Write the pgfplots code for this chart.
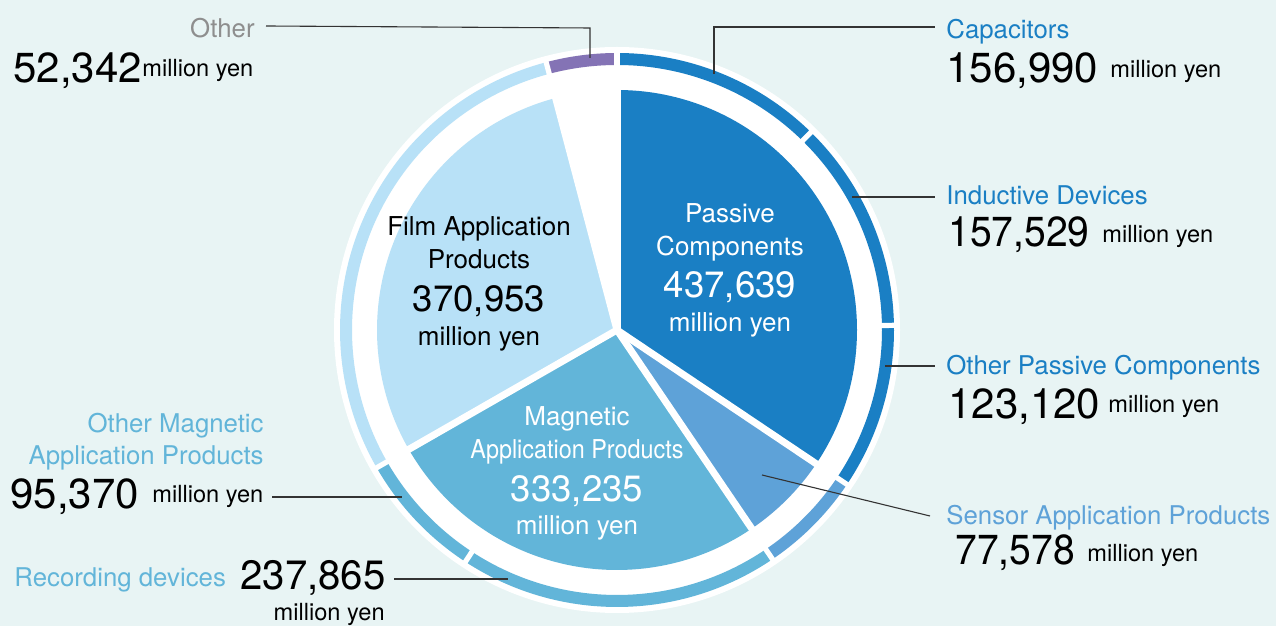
\documentclass[border=0pt]{standalone}
\usepackage{pgfplots}
\pgfplotsset{compat=1.18}
\usepackage{graphicx}
\usepackage{fontspec}
\setmainfont{TeX Gyre Heros}
\definecolor{bg}{HTML}{E8F4F4}
\definecolor{cpass}{HTML}{1A7FC4}
\definecolor{csens}{HTML}{5EA2D8}
\definecolor{cmag}{HTML}{62B5D9}
\definecolor{cfilm}{HTML}{B8E1F7}
\definecolor{cother}{HTML}{8473B5}
\definecolor{cgray}{HTML}{8E8E8E}
\newcommand\fs[1]{\fontsize{#1pt}{#1pt}\selectfont}
% annular ring segment: start angle, end angle, colour
\newcommand\ring[3]{\fill[#3] (axis cs:617,296) ++(#1:138.5pt) arc[start angle=#1,end angle=#2,radius=138.5pt] -- ++(#2:-6pt) arc[start angle=#2,end angle=#1,radius=132.5pt] -- cycle;}
\newcommand\ringgap[1]{\draw[white,line width=2.6pt] (axis cs:617,296) ++(#1:130pt) -- ++(#1:11pt);}
\newcommand\piegap[1]{\draw[white,line width=3.5pt] (axis cs:617,296) -- ++(#1:122pt);}
% segment values (million yen), clockwise from top
\def\vCap{156990}\def\vInd{157529}\def\vOPC{123120}\def\vSen{77578}
\def\vRec{237865}\def\vOMag{95370}\def\vFilm{370953}\def\vOth{52342}
\pgfkeys{/pgf/fpu=true,/pgf/fpu/output format=fixed}
\pgfmathsetmacro\vTot{\vCap+\vInd+\vOPC+\vSen+\vRec+\vOMag+\vFilm+\vOth}
\pgfmathsetmacro\bA{90-360*\vCap/\vTot}
\pgfmathsetmacro\bB{\bA-360*\vInd/\vTot}
\pgfmathsetmacro\bC{\bB-360*\vOPC/\vTot}
\pgfmathsetmacro\bD{\bC-360*\vSen/\vTot}
\pgfmathsetmacro\bE{\bD-360*\vRec/\vTot}
\pgfmathsetmacro\bF{\bE-360*\vOMag/\vTot}
\pgfmathsetmacro\bG{\bF-360*\vFilm/\vTot}
\pgfmathsetmacro\bH{\bG-360*\vOth/\vTot}
\pgfkeys{/pgf/fpu=false}
\begin{document}
\begin{tikzpicture}
\begin{axis}[at={(0,0)},anchor=south west,scale only axis,width=638pt,height=313pt,
  xmin=0,xmax=1276,ymin=0,ymax=626,hide axis,clip=false]
\fill[bg] (axis cs:0,0) rectangle (axis cs:1276,626);
\fill[white] (axis cs:617,296) circle[radius=141.5pt];
% inner pie
\fill[cpass] (axis cs:617,296) -- ++(90:120pt) arc[start angle=90,end angle=\bC,radius=120pt] -- cycle;
\fill[csens] (axis cs:617,296) -- ++(\bC:120pt) arc[start angle=\bC,end angle=\bD,radius=120pt] -- cycle;
\fill[cmag] (axis cs:617,296) -- ++(\bD:120pt) arc[start angle=\bD,end angle=\bF,radius=120pt] -- cycle;
\fill[cfilm] (axis cs:617,296) -- ++(\bF:120pt) arc[start angle=\bF,end angle=\bG,radius=120pt] -- cycle;
\piegap{90}\piegap{\bC}\piegap{\bD}\piegap{\bF}\piegap{\bG}
% outer ring
\ring{90}{\bA}{cpass}
\ring{\bA}{\bB}{cpass}
\ring{\bB}{\bC}{cpass}
\ring{\bC}{\bD}{csens}
\ring{\bD}{\bE}{cmag}
\ring{\bE}{\bF}{cmag}
\ring{\bF}{\bG}{cfilm}
\ring{\bG}{\bH}{cother}
\ringgap{90}\ringgap{\bA}\ringgap{\bB}\ringgap{\bC}\ringgap{\bD}\ringgap{\bE}\ringgap{\bF}\ringgap{\bG}
% leader lines
\draw[black!80,line width=0.55pt] (axis cs:266,600) -- (axis cs:590,598) -- (axis cs:590,568);
\draw[black!80,line width=0.55pt] (axis cs:714,552) -- (axis cs:714,599) -- (axis cs:935,599);
\draw[black!80,line width=0.55pt] (axis cs:852,429) -- (axis cs:935,429);
\draw[black!80,line width=0.55pt] (axis cs:885,260) -- (axis cs:935,260);
\draw[black!80,line width=0.55pt] (axis cs:762,151) -- (axis cs:930,110);
\draw[black!80,line width=0.55pt] (axis cs:272,129) -- (axis cs:402,129);
\draw[black!80,line width=0.55pt] (axis cs:394,47) -- (axis cs:508,47);
% right labels
\begin{scope}[every node/.style={inner sep=0pt,anchor=base west}]
\node[text=cpass,font=\fs{12.9}] at (axis cs:946,587) {Capacitors};
\node[font=\fs{21}] at (axis cs:946,543) {156,990};
\node[font=\fs{11.8}] at (axis cs:1110,548) {million yen};
\node[text=cpass,font=\fs{12.9}] at (axis cs:946,421) {Inductive Devices};
\node[font=\fs{21}] at (axis cs:948,379) {\scalebox{0.93}[1]{157,529}};
\node[font=\fs{11.8}] at (axis cs:1102,383) {million yen};
\node[text=cpass,font=\fs{12.9}] at (axis cs:946,251) {Other Passive Components};
\node[font=\fs{21}] at (axis cs:948,207) {123,120};
\node[font=\fs{11.8}] at (axis cs:1108,213) {million yen};
\node[text=csens,font=\fs{12.9}] at (axis cs:946,101) {Sensor Application Products};
\node[font=\fs{21}] at (axis cs:955,61) {\scalebox{0.93}[1]{77,578}};
\node[font=\fs{11.8}] at (axis cs:1087,64) {million yen};
% left labels
\node[anchor=base east,text=cgray,font=\fs{12.9}] at (axis cs:255,588) {Other};
\node[font=\fs{21}] at (axis cs:13,543) {52,342};
\node[font=\fs{11.8}] at (axis cs:142,549) {million yen};
\node[anchor=base east,text=cmag,font=\fs{12.9}] at (axis cs:264,193) {Other Magnetic};
\node[anchor=base east,text=cmag,font=\fs{12.9}] at (axis cs:264,161) {Application Products};
\node[font=\fs{21}] at (axis cs:10,117) {95,370};
\node[font=\fs{11.8}] at (axis cs:152,123) {million yen};
\node[text=cmag,font=\fs{12.9}] at (axis cs:14,39) {Recording devices};
\node[font=\fs{20.5}] at (axis cs:240,36) {\scalebox{0.98}[1]{237,865}};
\node[anchor=base east,font=\fs{11.8}] at (axis cs:385,5) {million yen};
% inner labels
\node[anchor=base,text=white,font=\fs{13}] at (axis cs:730,403) {Passive};
\node[anchor=base,text=white,font=\fs{13}] at (axis cs:730,370) {Components};
\node[anchor=base,text=white,font=\fs{18.3}] at (axis cs:730,328) {437,639};
\node[anchor=base,text=white,font=\fs{13}] at (axis cs:730,294) {million yen};
\node[anchor=base,font=\fs{13}] at (axis cs:479,390) {Film Application};
\node[anchor=base,font=\fs{13}] at (axis cs:479,357) {Products};
\node[anchor=base,font=\fs{18.3}] at (axis cs:479,314) {370,953};
\node[anchor=base,font=\fs{13}] at (axis cs:479,280) {million yen};
\node[anchor=base,text=white,font=\fs{13}] at (axis cs:577,200) {Magnetic};
\node[anchor=base,text=white,font=\fs{13}] at (axis cs:577,167) {\scalebox{0.9}[1]{Application Products}};
\node[anchor=base,text=white,font=\fs{18.3}] at (axis cs:577,124) {333,235};
\node[anchor=base,text=white,font=\fs{13}] at (axis cs:577,91) {million yen};
\end{scope}
\end{axis}
\pgfresetboundingbox
\path (0,0) rectangle (638pt,313pt);
\end{tikzpicture}
\end{document}
